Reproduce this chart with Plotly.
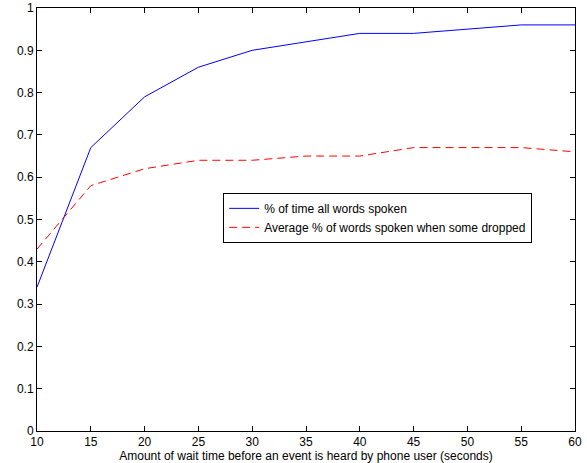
import plotly.graph_objects as go

wait_time = [10, 15, 20, 25, 30, 35, 40, 45, 50, 55, 60]
all_words = [0.34, 0.67, 0.79, 0.86, 0.90, 0.92, 0.94, 0.94, 0.95, 0.96, 0.96]
avg_words = [0.43, 0.58, 0.62, 0.64, 0.64, 0.65, 0.65, 0.67, 0.67, 0.67, 0.66]

x_ticks = [10, 15, 20, 25, 30, 35, 40, 45, 50, 55, 60]
y_ticks = [0, 0.1, 0.2, 0.3, 0.4, 0.5, 0.6, 0.7, 0.8, 0.9, 1]
y_tick_text = ["0", "0.1", "0.2", "0.3", "0.4", "0.5", "0.6", "0.7", "0.8", "0.9", "1"]

fig = go.Figure()
fig.add_trace(go.Scatter(x=wait_time, y=all_words, mode="lines",
                         name="% of time all words spoken",
                         line=dict(color="#0000ff", width=1)))
fig.add_trace(go.Scatter(x=wait_time, y=avg_words, mode="lines",
                         name="Average % of words spoken when some dropped",
                         line=dict(color="#ff0000", width=1, dash="8px,5px")))

axis_common = dict(showgrid=False, zeroline=False, showline=True, linecolor="black",
                   linewidth=1, mirror="ticks", ticks="inside", ticklen=5,
                   tickcolor="black", automargin=False,
                   tickfont=dict(family="Liberation Sans", size=12, color="black"))

fig.update_layout(
    width=587, height=463,
    margin=dict(l=37, r=12, t=8, b=32),
    plot_bgcolor="white", paper_bgcolor="white",
    font=dict(family="Liberation Sans", size=12, color="black"),
    xaxis=dict(range=[10, 60], tickvals=x_ticks,
               title=dict(text="Amount of wait time before an event is heard by phone user (seconds)",
                          font=dict(size=12), standoff=0),
               **axis_common),
    yaxis=dict(range=[0, 1], tickvals=y_ticks, ticktext=y_tick_text, **axis_common),
    legend=dict(x=0.346, y=0.563, xanchor="left", yanchor="top",
                bordercolor="black", borderwidth=1, bgcolor="white",
                font=dict(size=12), tracegroupgap=0, itemwidth=30),
    showlegend=True,
)

fig.write_html("out.html", config={"displayModeBar": False},
               post_script="document.body.style.margin='0';document.body.style.overflow='hidden';")
